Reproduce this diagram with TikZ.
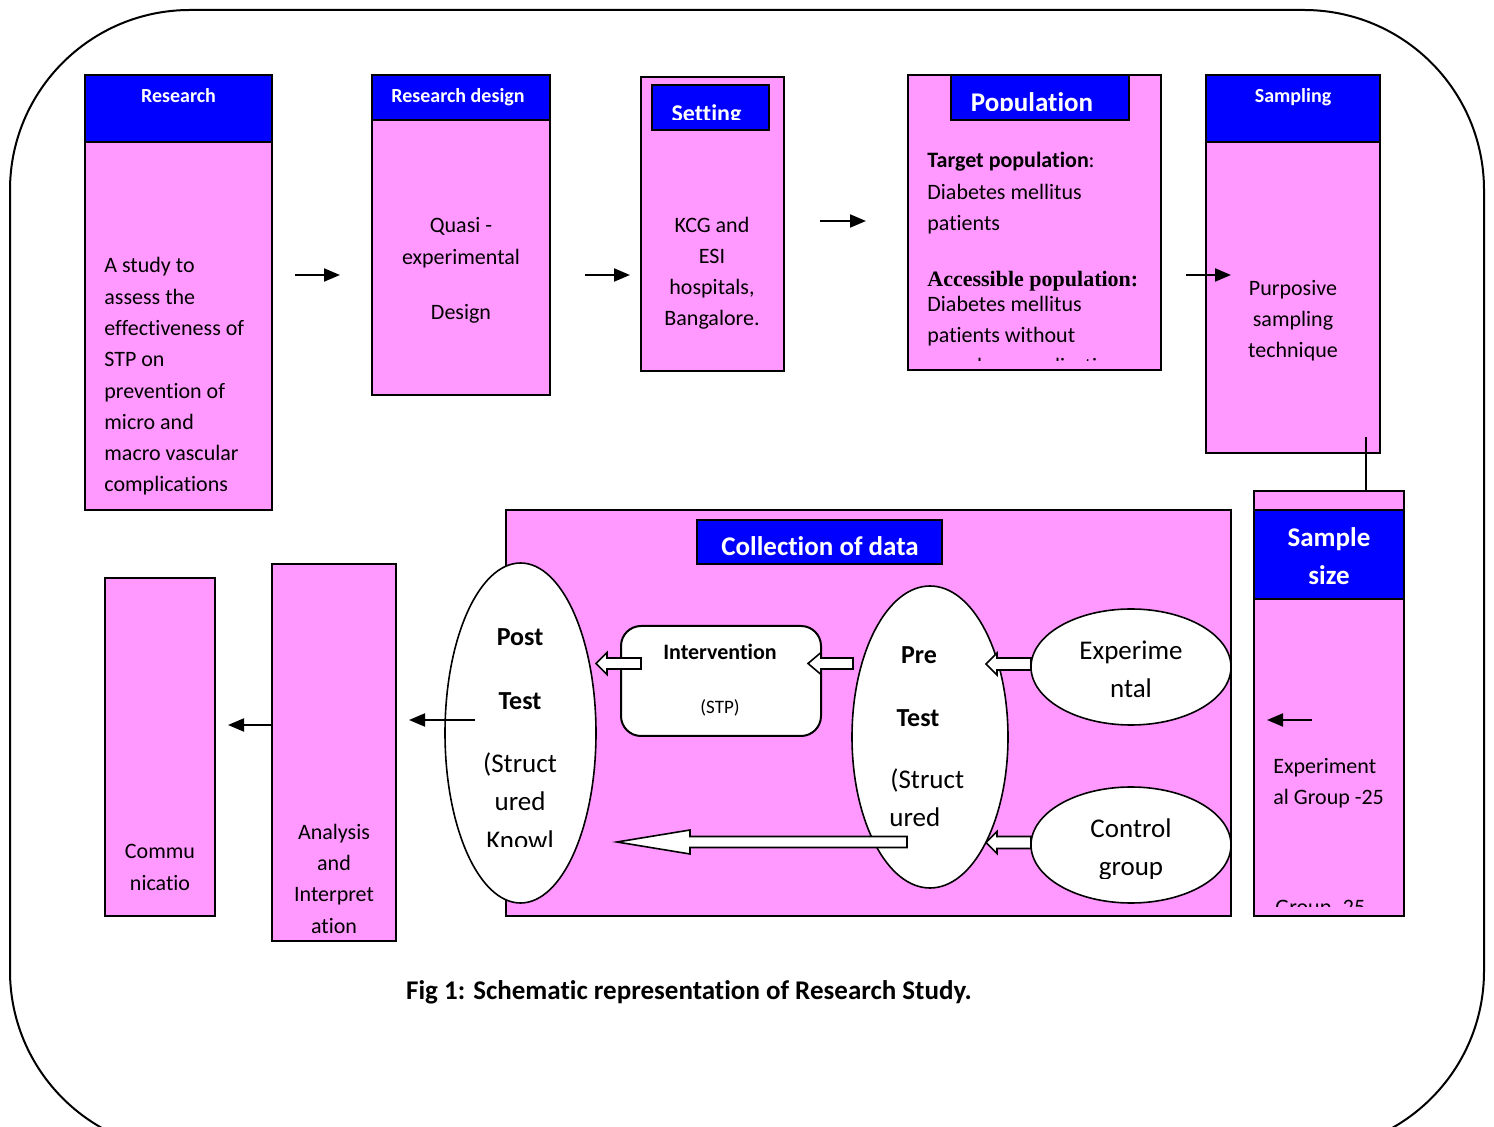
\documentclass[tikz,border=0pt]{standalone}
\usepackage{fontspec}
\setmainfont{Carlito}[Ligatures={NoCommon}]
\newfontfamily\serifbf{Liberation Serif}
\usetikzlibrary{calc,arrows.meta,shapes.geometric}
\definecolor{pinkf}{HTML}{FF99FF}
\definecolor{bluef}{HTML}{0000FF}
\newcommand{\rectnode}[6]{\node[#6, minimum width={(#4-#2)*0.5pt}, minimum height={(#5-#3)*0.5pt}] (#1) at ({(#2+#4)/2},{(#3+#5)/2}) {};}
\newcommand{\blockarrow}[5]{%
  \draw[blk] ($(#1)+(0,-#4)$) -- ($(#2)+(#3,-#4)$) -- ($(#2)+(#3,-#5)$) -- (#2) -- ($(#2)+(#3,#5)$) -- ($(#2)+(#3,#4)$) -- ($(#1)+(0,#4)$) -- cycle;}
\tikzset{
  pinkbox/.style={draw, line width=1pt, fill=pinkf, inner sep=0pt, outer sep=0pt},
  bluebox/.style={draw, line width=1pt, fill=bluef, inner sep=0pt, outer sep=0pt},
  intbox/.style={draw, line width=1pt, fill=white, rounded corners=10pt, inner sep=0pt, outer sep=0pt},
  hdr/.style={text=white, font=\bfseries\fontsize{10}{12}\selectfont, inner sep=0pt},
  bighdr/.style={text=white, font=\bfseries\fontsize{13.5}{19}\selectfont, inner sep=0pt},
  body/.style={font=\fontsize{11}{15.65}\selectfont, inner sep=0pt},
  ellbody/.style={font=\fontsize{13.5}{19}\selectfont, inner sep=0pt},
  ellbold/.style={font=\bfseries\fontsize{13}{19}\selectfont, inner sep=0pt},
  ell/.style={ellipse, draw, line width=0.8pt, fill=white, inner sep=0pt, outer sep=0pt},
  arr/.style={line width=1pt, -{Triangle[length=8pt,width=6.5pt]}},
  blk/.style={draw, line width=0.8pt, fill=white, line join=miter},
}
\begin{document}
\begin{tikzpicture}[x=0.5pt,y=-0.5pt]
\useasboundingbox (0,0) rectangle (1494,1127);
\clip (0,0) rectangle (1494,1127);
\fill[white] (0,0) rectangle (1494,1127);
% outer frame
\draw[line width=1pt, rounded corners=90pt] (10,10) rectangle (1484,1151);

% ---- top row boxes
\rectnode{res}{85}{75}{272}{510}{pinkbox}
\rectnode{resh}{85}{75}{272}{142}{bluebox}
\node[hdr, anchor=base] (resht) at (178.5,102.5) {Research};
\node[body, anchor=base west, align=left] (rest) at (104,492) {A study to\\assess the\\effectiveness of\\STP on\\prevention of\\micro and\\macro vascular\\complications};

\rectnode{des}{372}{75}{550}{395}{pinkbox}
\rectnode{desh}{372}{75}{550}{120}{bluebox}
\node[hdr, anchor=base] (desht) at (458,102.5) {Research design};
\node[body, anchor=base] (dest1) at (461,233) {Quasi -};
\node[body, anchor=base] (dest2) at (461,265) {experimental};
\node[body, anchor=base] (dest3) at (461,320) {Design};

\rectnode{set}{641}{77}{784}{371}{pinkbox}
\rectnode{seth}{652}{85}{769}{130}{bluebox}
\begin{scope}
  \clip (653,86) rectangle (768,119.5);
  \node[text=white, font=\bfseries\fontsize{12}{14}\selectfont, inner sep=0pt, anchor=base] (setht) at (706.5,122) {Setting};
\end{scope}
\node[body, anchor=base, align=center] (sett) at (712,326) {KCG and\\ESI\\hospitals,\\Bangalore.};

\rectnode{pop}{908}{75}{1161}{370}{pinkbox}
\rectnode{poph}{951}{75}{1129}{120}{bluebox}
\begin{scope}
  \clip (952,76) rectangle (1128,111);
  \node[bighdr, anchor=base] (popht) at (1032,112) {Population};
\end{scope}
\node[body, anchor=base west] (tp) at (927,168) {\textbf{Target population}:};
\node[body, anchor=base west, align=left] (tpd) at (927,231) {Diabetes mellitus\\patients};
\node[inner sep=0pt, anchor=base west, font=\serifbf\bfseries\fontsize{11}{13}\selectfont] (ap) at (927,287) {Accessible population:};
\node[body, anchor=base west, align=left] (apd) at (927,343) {Diabetes mellitus\\patients without};
\begin{scope}
  \clip (909,76) rectangle (1160,361);
  \node[body, anchor=base west] (apd2) at (927,374) {vascular complications};
\end{scope}

\rectnode{smp}{1206}{75}{1380}{453}{pinkbox}
\rectnode{smph}{1206}{75}{1380}{142}{bluebox}
\node[hdr, anchor=base] (smpht) at (1293,102.5) {Sampling};
\node[body, anchor=base, align=center] (smpt) at (1293,358) {Purposive\\sampling\\technique};

% ---- sample size
\rectnode{ss}{1254}{491}{1404}{916}{pinkbox}
\rectnode{ssh}{1254}{510}{1404}{599}{bluebox}
\node[bighdr, anchor=base, align=center] (ssht) at (1329,585) {Sample\\size};
\node[body, anchor=base west, align=left] (sst) at (1273,805) {Experiment\\al Group -25};
\begin{scope}
  \clip (1255,850) rectangle (1403,906.5);
  \node[body, anchor=base west] (sst2) at (1275,914) {Group -25};
\end{scope}
\coordinate (smpc) at (1366,437);
\draw[line width=1pt] (smpc) -- (smpc |- ss.north);

% ---- collection of data
\rectnode{col}{506}{510}{1231}{916}{pinkbox}
\rectnode{colh}{697}{520}{942}{564}{bluebox}
\node[bighdr, anchor=base] (colht) at (820,556) {Collection of data};

\node[ell, minimum width=75.5pt, minimum height=170pt] (post) at (520.5,733) {};
\node[ell, minimum width=78pt, minimum height=151pt] (pre) at (930,737) {};
\node[ell, minimum width=100pt, minimum height=58pt] (exp) at (1131,667) {};
\node[ell, minimum width=100pt, minimum height=58pt] (ctl) at (1131,845) {};
\rectnode{intv}{621}{626}{821}{736}{intbox}

% block arrows
\coordinate (e1) at (1031,664); \coordinate (e2) at (986,664);
\coordinate (c1) at (1031,842.5); \coordinate (c2) at (986,842.5);
\coordinate (p1) at (853,663.5); \coordinate (p2) at (808,663.5);
\coordinate (i1) at (641,663.5); \coordinate (i2) at (596,663.5);
\coordinate (l1) at (907,842); \coordinate (l2) at (617,842);
\blockarrow{e1}{e2}{11}{6}{11}
\blockarrow{c1}{c2}{11}{6}{11}
\blockarrow{p1}{p2}{13}{5.5}{11}
\blockarrow{i1}{i2}{11}{5.5}{11}
\blockarrow{l1}{l2}{73}{5.5}{12}

% ellipse texts
\node[ellbold, anchor=base] (postt1) at (520,646) {Post};
\node[ellbold, anchor=base] (postt2) at (520,710) {Test};
\node[ellbody, anchor=base, align=center] (postt3) at (520,811) {(Struct\\ured};
\begin{scope}
  \clip (450,820) rectangle (590,847);
  \node[ellbody, anchor=base] (postt4) at (520,849) {Knowl};
\end{scope}
\node[ellbold, anchor=base] (pret1) at (919,664) {Pre};
\node[ellbold, anchor=base] (pret2) at (918,727) {Test};
\node[ellbody, anchor=base west] (pret3) at (890,789) {(Struct};
\node[ellbody, anchor=base west] (pret4) at (889,827) {ured};
\node[ellbody, anchor=base, align=center] (expt) at (1131,698) {Experime\\ntal};
\node[ellbody, anchor=base] (ctlt1) at (1131,837) {Control};
\begin{scope}
  \clip (1040,850) rectangle (1220,878);
  \node[ellbody, anchor=base] (ctlt2) at (1131,875) {group};
\end{scope}
\node[inner sep=0pt, font=\bfseries\fontsize{11}{13}\selectfont, anchor=base] (intt1) at (720,660) {Intervention};
\node[inner sep=0pt, font=\fontsize{9.5}{11}\selectfont, anchor=base] (intt2) at (720,714) {(STP)};

% ---- bottom left boxes
\rectnode{ana}{272}{564}{396}{941}{pinkbox}
\node[body, anchor=base, align=center] (anat) at (334,933) {Analysis\\and\\Interpret\\ation};
\rectnode{com}{105}{578}{215}{916}{pinkbox}
\node[body, anchor=base, align=center] (comt) at (160,890) {Commu\\nicatio};

% ---- black arrows
\coordinate (a1s) at (295,275); \coordinate (a1e) at (340,275);
\coordinate (a2s) at (585,275); \coordinate (a2e) at (630,275);
\coordinate (a3s) at (820,221); \coordinate (a3e) at (866,221);
\coordinate (a4s) at (1186,275); \coordinate (a4e) at (1231,275);
\coordinate (a5s) at (1312,720); \coordinate (a5e) at (1267,720);
\coordinate (a6s) at (475,720); \coordinate (a6e) at (409,720);
\coordinate (a7s) at (272,725); \coordinate (a7e) at (228,725);
\foreach \i in {1,...,7} \draw[arr] (a\i s) -- (a\i e);

% caption
\node[inner sep=0pt, font=\bfseries\fontsize{13.5}{16}\selectfont, anchor=base] (cap) at (689,999) {Fig 1: Schematic representation of Research Study.};
\end{tikzpicture}
\end{document}
